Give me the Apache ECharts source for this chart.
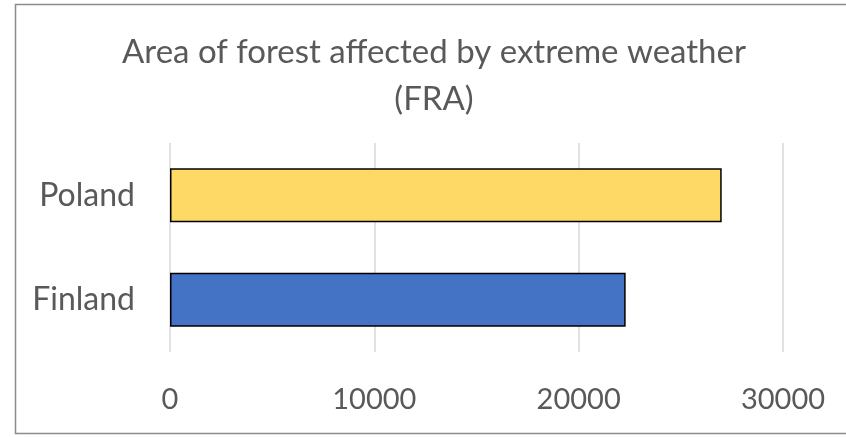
<!DOCTYPE html>
<html><head><meta charset="utf-8">
<script src="https://cdn.jsdelivr.net/npm/echarts@6/dist/echarts.min.js"></script>
<style>html,body{margin:0;padding:0;background:#fff}#c{width:846px;height:437px}</style>
</head><body><div id="c"></div>
<script>
const categories = ['Finland', 'Poland'];
const values = [22300, 27000];
const barColors = ['#4472C4', '#FFD966'];
const xTicks = [0, 10000, 20000, 30000];

const chart = echarts.init(document.getElementById('c'), null, {renderer: 'canvas'});
chart.setOption({
  backgroundColor: '#fff',
  animation: false,
  title: {
    text: 'Area of forest affected by extreme weather\n(FRA)',
    left: 429, top: 24, textAlign: 'center',
    textStyle: {fontFamily: 'Lato', fontSize: 33, fontWeight: 'normal', color: '#595959', lineHeight: 47}
  },
  graphic: [{type: 'rect', shape: {x: 15.5, y: 4.5, width: 840, height: 429}, style: {fill: 'none', stroke: '#8c8c8c', lineWidth: 1.5}, silent: true}],
  grid: {left: 170, right: 63, top: 143, bottom: 85},
  xAxis: {
    type: 'value', min: xTicks[0], max: xTicks[xTicks.length - 1], interval: 10000,
    axisLine: {show: false}, axisTick: {show: false},
    splitLine: {lineStyle: {color: '#d9d9d9', width: 1.5}},
    axisLabel: {fontFamily: 'Lato', fontSize: 29, color: '#595959', margin: 33, formatter: v => String(v)}
  },
  yAxis: {
    type: 'category', data: categories,
    axisLine: {show: false}, axisTick: {show: false},
    axisLabel: {fontFamily: 'Lato', fontSize: 32, color: '#595959', margin: 35}
  },
  series: [{
    type: 'bar', barWidth: 54,
    data: values.map((v, i) => ({value: v, itemStyle: {color: barColors[i]}})),
    itemStyle: {borderColor: '#000', borderWidth: 1.5}
  }]
});
</script></body></html>
